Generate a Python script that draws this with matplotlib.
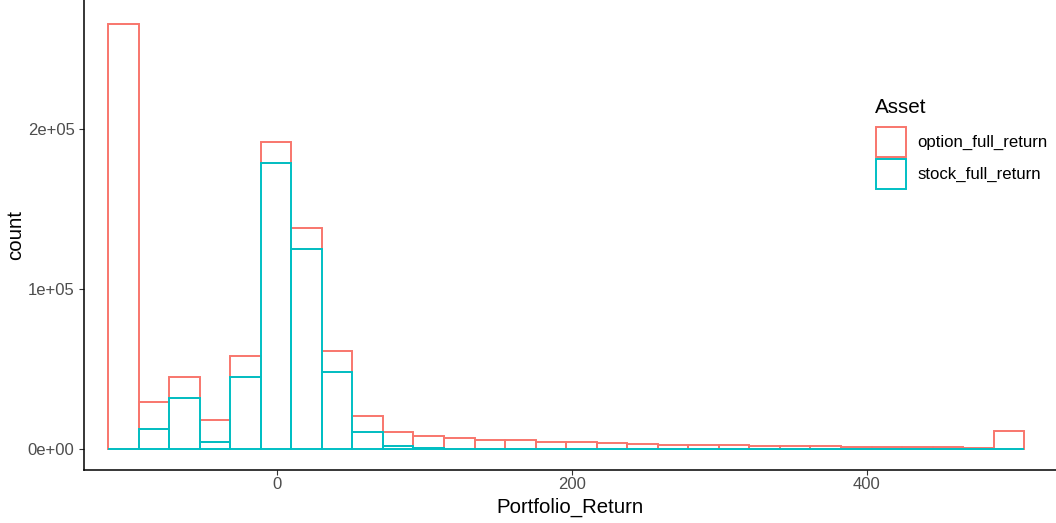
import numpy as np
import matplotlib
matplotlib.use("Agg")
import matplotlib.pyplot as plt
from matplotlib.patches import Rectangle

plt.rcParams["font.family"] = ["Liberation Sans", "DejaVu Sans"]

# histogram bins (30 bins, ggplot default)
bin_lo, bin_hi, n_bins = -114.2, 506.8, 30

# counts per bin
stock_full_return = [0, 12500, 31800, 4400, 44900, 178800, 125100, 48500, 10500, 1800,
                     900, 400, 150, 80, 40, 20, 10, 10, 0, 0,
                     0, 0, 0, 0, 0, 0, 0, 0, 0, 0]
total_counts = [265700, 29600, 44900, 18500, 58500, 192100, 138000, 61600, 21100, 10500,
                8100, 7100, 6100, 5500, 4800, 4400, 3700, 3300, 2900, 2700,
                2500, 2300, 2000, 1800, 1700, 1500, 1300, 1200, 1100, 11200]
option_full_return = [t - s for t, s in zip(total_counts, stock_full_return)]

assets = ["option_full_return", "stock_full_return"]
x_ticks = [0, 200, 400]
y_ticks = [0, 100000, 200000]
y_tick_labels = ["0e+00", "1e+05", "2e+05"]

col_opt = "#F8766D"
col_stk = "#00BFC4"

W, H = 1056, 523
edges = np.linspace(bin_lo, bin_hi, n_bins + 1)
width = edges[1] - edges[0]

fig = plt.figure(figsize=(W / 100, H / 100), dpi=100)
ax = fig.add_axes([84.3 / W, 1 - 470.3 / H, 1 - 84.3 / W, 470.3 / H])

# stacked: option sits on top of stock
ax.bar(edges[:-1], option_full_return, width=width, bottom=stock_full_return, align="edge",
       fill=False, edgecolor=col_opt, linewidth=1.4, zorder=2)
ax.bar(edges[:-1], stock_full_return, width=width, align="edge",
       fill=False, edgecolor=col_stk, linewidth=1.4, zorder=3)

ax.set_xlim(-130.3, 528.3)
ax.set_ylim(-13125, 280800)
ax.set_xticks(x_ticks)
ax.set_yticks(y_ticks)
ax.set_yticklabels(y_tick_labels)

for side in ["top", "right"]:
    ax.spines[side].set_visible(False)
for side in ["left", "bottom"]:
    ax.spines[side].set_linewidth(1.1)
    ax.spines[side].set_color("black")
ax.tick_params(axis="both", length=3.6, width=0.8, color="#333333",
               labelsize=12, labelcolor="#4D4D4D")
ax.tick_params(axis="y", pad=3.4)
ax.tick_params(axis="x", pad=1.5)

ax.set_xlabel("Portfolio_Return", fontsize=14.7, labelpad=4)
ax.set_ylabel("count", fontsize=14.7, labelpad=1.5)

# legend, ggplot style (placed inside the panel)
fig.text(875 / W, 1 - 112.7 / H, "Asset", fontsize=14.9, va="baseline", ha="left")
key_tops = [127.3, 159.3]
for asset, col, top in zip(assets, [col_opt, col_stk], key_tops):
    fig.add_artist(Rectangle((876 / W, 1 - (top + 29.5) / H), 29.5 / W, 29.5 / H,
                             transform=fig.transFigure, facecolor="white",
                             edgecolor=col, linewidth=1.4))
    fig.text(917.3 / W, 1 - (top + 15) / H, asset, fontsize=12.1, va="center", ha="left")

fig.savefig("out.png", dpi=100)
